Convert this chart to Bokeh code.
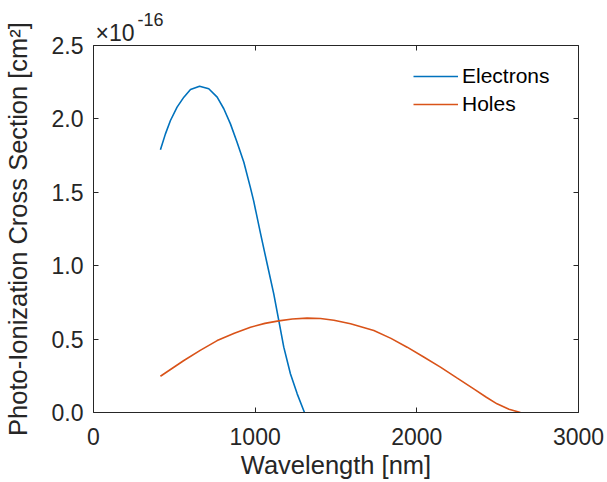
from bokeh.plotting import figure
from bokeh.models import LinearAxis, Range1d, FixedTicker, Title, Legend, LegendItem, CustomJSTickFormatter
from bokeh.embed import file_html
from bokeh.resources import INLINE

# Data (cross section in units of 1e-16 cm^2)
electron_wl = [414, 445, 476, 517, 559, 600, 656, 713, 765, 806, 847, 888, 930, 971, 991,
               1033, 1074, 1115, 1146, 1177, 1218, 1260, 1305]
electron_cs = [1.79, 1.898, 1.989, 2.080, 2.148, 2.200, 2.223, 2.205, 2.148, 2.069, 1.966, 1.841,
               1.705, 1.53, 1.44, 1.22, 1.013, 0.808, 0.627, 0.445, 0.264, 0.127, 0.0]
hole_wl = [414, 559, 660, 765, 871, 971, 1060, 1146, 1230, 1321, 1404, 1487, 1590, 1734,
           1840, 1940, 2040, 2146, 2250, 2352, 2430, 2496, 2570, 2641]
hole_cs = [0.247, 0.354, 0.423, 0.490, 0.540, 0.581, 0.607, 0.624, 0.637, 0.643, 0.640, 0.628,
           0.604, 0.559, 0.505, 0.445, 0.380, 0.309, 0.234, 0.161, 0.104, 0.059, 0.022, 0.0]
x_ticks = [0, 1000, 2000, 3000]
y_ticks = [0.0, 0.5, 1.0, 1.5, 2.0, 2.5]

FONT = "Liberation Sans"
AX = "#262626"

p = figure(width=607, height=482, output_backend="svg", toolbar_location=None,
           x_range=Range1d(0, 3000), y_range=Range1d(0, 2.5), x_axis_location=None, y_axis_location=None,
           min_border_left=93, min_border_right=29, min_border_top=45, min_border_bottom=70)
p.grid.visible = False
p.outline_line_color = None

l1 = p.line(electron_wl, electron_cs, line_color="#0072BD", line_width=1.6)
l2 = p.line(hole_wl, hole_cs, line_color="#D95319", line_width=1.6)

blank = CustomJSTickFormatter(code="return '';")
yfmt = CustomJSTickFormatter(code="return tick.toFixed(1);")

bottom = LinearAxis(ticker=FixedTicker(ticks=x_ticks), axis_label="Wavelength [nm]")
left = LinearAxis(ticker=FixedTicker(ticks=y_ticks), formatter=yfmt,
                  axis_label="Photo-Ionization Cross Section [cm²]")
top = LinearAxis(ticker=FixedTicker(ticks=x_ticks), formatter=blank, major_label_standoff=0)
right = LinearAxis(ticker=FixedTicker(ticks=y_ticks), formatter=blank, major_label_standoff=0)
p.add_layout(bottom, "below")
p.add_layout(left, "left")
p.add_layout(top, "above")
p.add_layout(right, "right")

for ax in [bottom, left, top, right]:
    ax.axis_line_color = AX
    ax.axis_line_width = 1
    ax.major_tick_line_color = AX
    ax.major_tick_in = 5
    ax.major_tick_out = 0
    ax.minor_tick_line_color = None
    ax.major_label_text_font = FONT
    ax.major_label_text_color = AX
    ax.major_label_text_font_size = "23px"
    ax.axis_label_text_font = FONT
    ax.axis_label_text_color = AX
    ax.axis_label_text_font_style = "normal"
    ax.axis_label_text_font_size = "25.5px"
top.major_label_text_font_size = "1px"
right.major_label_text_font_size = "1px"

bottom.major_label_standoff = 15
bottom.axis_label_standoff = 3
left.major_label_standoff = 10
left.axis_label_standoff = 17

# exponent of the y axis
t1 = Title(text="×10", align="left", offset=2, standoff=0, vertical_align="bottom",
           text_font=FONT, text_font_size="23px", text_font_style="normal", text_color=AX)
t2 = Title(text="-16", align="left", offset=44, standoff=-16, vertical_align="bottom",
           text_font=FONT, text_font_size="18px", text_font_style="normal", text_color=AX)
p.add_layout(t1, "above")
p.add_layout(t2, "above")

legend = Legend(items=[LegendItem(label="Electrons", renderers=[l1]),
                       LegendItem(label="Holes", renderers=[l2])],
                location=(320, 296), border_line_color=None, background_fill_alpha=0,
                label_text_font=FONT, label_text_font_size="21px", label_text_color="#000000",
                glyph_width=45, glyph_height=20, label_height=20,
                label_standoff=4, padding=0, spacing=4, margin=0)
p.add_layout(legend, "center")

open("out.html", "w").write(file_html(p, INLINE))
